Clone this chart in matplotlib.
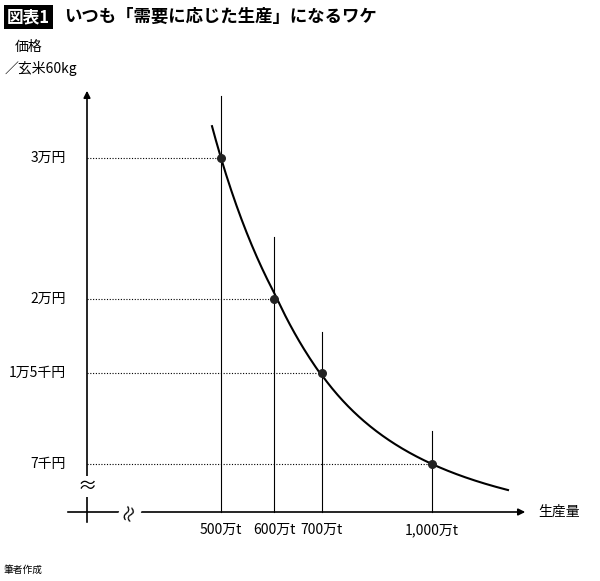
import matplotlib
matplotlib.use("Agg")
import matplotlib.pyplot as plt
import numpy as np

plt.rcParams['font.family'] = ['Noto Sans CJK JP', 'DejaVu Sans']

quantities = [500, 600, 700, 1000]
prices = [30000, 20000, 15000, 7000]
x_labels = ["500万t", "600万t", "700万t", "1,000万t"]
y_labels = ["3万円", "2万円", "1万5千円", "7千円"]
vline_tops = [34400, 24400, 17800, 9900]
curve_exp = 2.1  # demand curve shape: price = 30000*(500/q)^n

# schematic (non-uniform) axis scales: data value -> pixel
xk_d = np.array([-1000, 500, 600, 700, 1000, 3000], float)
xk_p = np.array([-574, 221, 274, 322, 432, 1166], float)
yk_d = np.array([-50000, 7000, 15000, 20000, 30000, 80000], float)
yk_p = -np.array([1113, 464, 373, 299, 158, -547], float)

fx = lambda v: np.interp(v, xk_d, xk_p)
ix = lambda v: np.interp(v, xk_p, xk_d)
fy = lambda v: np.interp(v, yk_d, yk_p)
iy = lambda v: np.interp(v, yk_p, yk_d)

fig = plt.figure(figsize=(6, 5.81), dpi=100)
ax = fig.add_axes([0, 0, 1, 1])
ax.set_xscale('function', functions=(fx, ix))
ax.set_yscale('function', functions=(fy, iy))
ax.set_xlim(ix(0), ix(600))
ax.set_ylim(iy(-581), iy(0))
ax.axis('off')

def px(xp):
    return float(ix(xp))
def py(yp):
    return float(iy(-yp))

x0, y0 = px(87), py(512)
ax.annotate("", xy=(x0, py(88)), xytext=(x0, py(525)),
            arrowprops=dict(arrowstyle="-|>", color="black", lw=1.2, mutation_scale=10))
ax.annotate("", xy=(px(528), y0), xytext=(px(65), y0),
            arrowprops=dict(arrowstyle="-|>", color="black", lw=1.2, mutation_scale=10))
ax.text(x0, py(487), "≈", ha='center', va='center', fontsize=14,
        bbox=dict(fc='white', ec='none', pad=0))
ax.text(px(130), y0, "≈", ha='center', va='center', fontsize=14, rotation=70,
        bbox=dict(fc='white', ec='none', pad=0))

for q, p, top in zip(quantities, prices, vline_tops):
    ax.plot([q, q], [y0, top], color='black', lw=0.8)
    ax.plot([x0, q], [p, p], color='black', lw=0.8, ls=(0, (1, 1.5)))
ax.scatter(quantities, prices, s=30, color='#222222', zorder=5)

qc = np.linspace(px(212), px(508), 300)
ax.plot(qc, prices[0] * (quantities[0] / qc) ** curve_exp, color='black', lw=1.5)

for p, lab in zip(prices, y_labels):
    ax.text(px(66), p, lab, ha='right', va='center', fontsize=10)
for q, lab in zip(quantities, x_labels):
    ax.text(q, py(530), lab, ha='center', va='center', fontsize=10)

ax.text(px(15), py(47), "価格", ha='left', va='center', fontsize=10)
ax.text(px(5), py(68), "／玄米60kg", ha='left', va='center', fontsize=10)
ax.text(px(538), y0, "生産量", ha='left', va='center', fontsize=10)
ax.text(px(4), py(570), "筆者作成", ha='left', va='center', fontsize=7)

ax.text(px(7), py(17), "図表1", ha='left', va='center', fontsize=12, fontweight='bold',
        color='white', bbox=dict(fc='black', ec='none', pad=2))
ax.text(px(64), py(17), "いつも「需要に応じた生産」になるワケ", ha='left', va='center',
        fontsize=12.5, fontweight='bold')

fig.savefig("out.png", dpi=100)
